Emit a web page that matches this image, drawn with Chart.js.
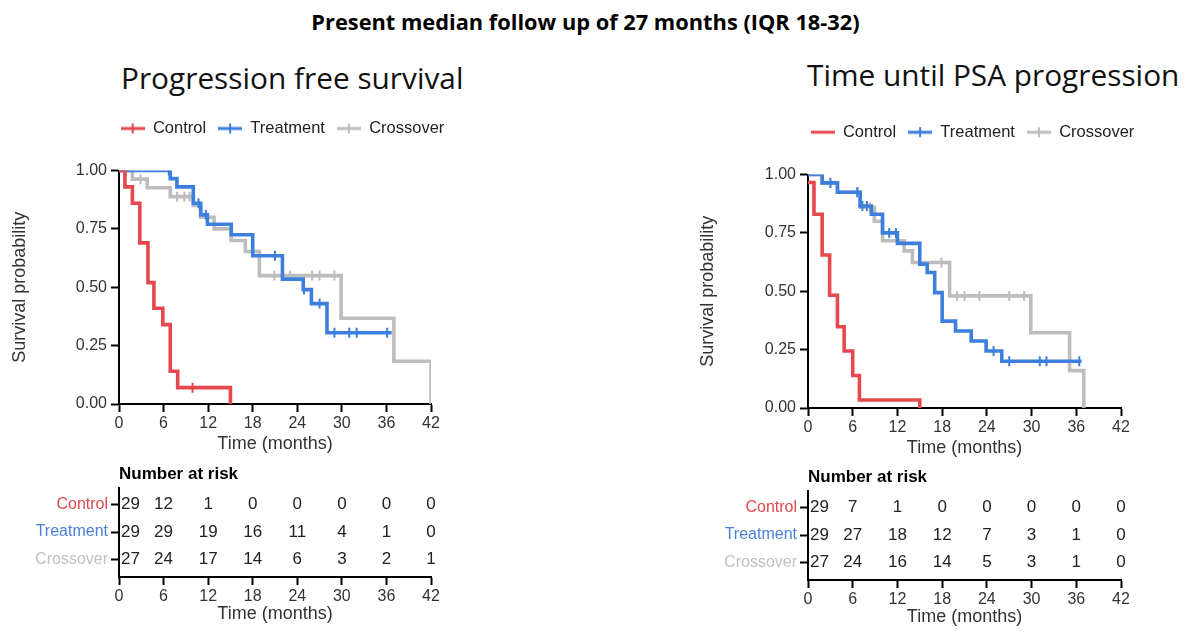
<!DOCTYPE html>
<html><head><meta charset="utf-8">
<script src="https://cdn.jsdelivr.net/npm/chart.js@4.4.1/dist/chart.umd.min.js"></script>
<style>
html,body{margin:0;padding:0;background:#fff;width:1200px;height:643px;overflow:hidden;position:relative;}
canvas{position:absolute;}
#mainTitle{position:absolute;left:0;width:1171px;top:7px;text-align:center;font:bold 21.8px 'Open Sans',sans-serif;color:#000;white-space:nowrap;}
.subTitle{position:absolute;font:29.8px/36px 'Open Sans',sans-serif;color:#111;white-space:nowrap;}
</style></head><body>
<div id="mainTitle">Present median follow up of 27 months (IQR 18-32)</div>
<div class="subTitle" style="left:121px;top:60px">Progression free survival</div>
<div class="subTitle" style="left:807px;top:57px">Time until PSA progression</div>
<canvas id="kmL" width="565" height="410" style="left:0;top:50px"></canvas>
<canvas id="kmR" width="565" height="410" style="left:690px;top:54px"></canvas>
<canvas id="riskL" width="451" height="175" style="left:0;top:455px"></canvas>
<canvas id="riskR" width="451" height="175" style="left:690px;top:458px"></canvas>
<script>
// ---------- data ----------
const timeTicks = [0, 6, 12, 18, 24, 30, 36, 42];
const groups = ['Control', 'Treatment', 'Crossover'];

// Progression free survival (left)
const pfsControlTime = [0, 0.8, 1.8, 2.8, 3.9, 4.7, 5.9, 6.9, 7.9, 15.0];
const pfsControlSurv = [1.00, 0.93, 0.86, 0.69, 0.52, 0.41, 0.34, 0.14, 0.07, 0.00];
const pfsControlCens = [9.9];
const pfsTreatTime = [0, 6.9, 7.8, 10.0, 11.0, 11.9, 15.1, 18.0, 22.0, 24.8, 25.9, 28.0, 36.7];
const pfsTreatSurv = [1.00, 0.965, 0.93, 0.86, 0.81, 0.77, 0.725, 0.635, 0.535, 0.49, 0.43, 0.305, 0.305];
const pfsTreatCens = [6.7, 10.7, 11.7, 21.0, 24.9, 27.0, 29.0, 31.0, 32.0, 36.1];
const pfsCrossTime = [0, 1.8, 3.8, 6.9, 10.0, 11.0, 12.8, 15.1, 17.0, 18.9, 29.9, 37.0, 42.0];
const pfsCrossSurv = [1.00, 0.963, 0.926, 0.888, 0.85, 0.80, 0.75, 0.70, 0.653, 0.55, 0.367, 0.183, 0.00];
const pfsCrossCens = [2.9, 7.8, 8.8, 9.5, 20.9, 23.0, 26.0, 27.0, 29.0];

// Time until PSA progression (right)
const psaControlTime = [0, 0.8, 1.9, 2.9, 3.95, 4.85, 6.0, 6.9, 15.0];
const psaControlSurv = [0.966, 0.83, 0.655, 0.483, 0.348, 0.244, 0.139, 0.034, 0.00];
const psaControlCens = [];
const psaTreatTime = [0, 1.9, 3.95, 7.0, 8.5, 10.0, 12.0, 15.0, 16.0, 17.0, 18.0, 19.8, 21.9, 23.9, 26.0, 36.7];
const psaTreatSurv = [1.00, 0.964, 0.924, 0.865, 0.83, 0.75, 0.705, 0.616, 0.58, 0.494, 0.372, 0.33, 0.287, 0.244, 0.20, 0.20];
const psaTreatCens = [3.0, 6.6, 7.3, 7.9, 10.9, 11.8, 24.9, 27.0, 31.1, 32.0, 36.4];
const psaCrossTime = [0, 1.9, 3.95, 7.0, 8.9, 10.0, 12.9, 14.0, 19.0, 29.9, 35.1, 37.0];
const psaCrossSurv = [1.00, 0.964, 0.924, 0.86, 0.80, 0.716, 0.673, 0.623, 0.48, 0.322, 0.16, 0.00];
const psaCrossCens = [3.0, 6.7, 8.3, 17.9, 20.0, 21.0, 23.0, 27.0, 29.0];

// Number at risk
const pfsRiskControl = [29, 12, 1, 0, 0, 0, 0, 0];
const pfsRiskTreatment = [29, 29, 19, 16, 11, 4, 1, 0];
const pfsRiskCrossover = [27, 24, 17, 14, 6, 3, 2, 1];
const psaRiskControl = [29, 7, 1, 0, 0, 0, 0, 0];
const psaRiskTreatment = [29, 27, 18, 12, 7, 3, 1, 0];
const psaRiskCrossover = [27, 24, 16, 14, 5, 3, 1, 0];

// ---------- styling ----------
const FONT = "'Liberation Sans', Arial, sans-serif";
const RED = '#e5484d', BLUE = '#3d7fdc', GRAY = '#bdbdbd';
const LABEL_COLORS = ['#e0484f', '#4a80dc', '#c0c0c0'];

function survAt(times, surv, t) {
  let s = surv[0];
  for (let i = 0; i < times.length; i++) if (times[i] <= t) s = surv[i];
  return s;
}
function curve(label, times, surv, color) {
  return { label, data: times.map((t, i) => ({x: t, y: surv[i]})), stepped: true,
    borderColor: color, backgroundColor: color, borderWidth: 3.6, pointRadius: 0, fill: false, tension: 0 };
}
function censors(label, times, surv, cens, color) {
  return { label, data: cens.map(t => ({x: t, y: survAt(times, surv, t)})), showLine: false,
    pointStyle: 'line', pointRotation: 90, pointRadius: 5, pointBorderWidth: 2,
    pointBorderColor: color, borderColor: color, backgroundColor: color };
}
function legendSymbol(color, cross) {
  const c = document.createElement('canvas'); c.width = 24; c.height = 12;
  const g = c.getContext('2d'); g.strokeStyle = color; g.lineWidth = 3;
  g.beginPath(); g.moveTo(0, 6); g.lineTo(24, 6); g.stroke();
  if (cross) { g.lineWidth = 2; g.beginPath(); g.moveTo(12, 1); g.lineTo(12, 11); g.stroke(); }
  return c;
}
const axisGrid = { drawOnChartArea: false, drawTicks: true, tickLength: 8, tickColor: '#000', tickWidth: 2 };
const axisBorder = { color: '#000', width: 2 };

function xAxis(height) {
  return { type: 'linear', position: 'bottom', min: 0, max: 42,
    afterBuildTicks: s => { s.ticks = timeTicks.map(v => ({value: v})); },
    ticks: { font: {family: FONT, size: 16}, color: '#333', padding: 2, autoSkip: false, maxRotation: 0 },
    grid: axisGrid, border: axisBorder,
    title: { display: true, text: 'Time (months)', font: {family: FONT, size: 18}, color: '#333', padding: {top: 0, bottom: 5} },
    afterFit: s => { s.height = height; } };
}
function spacer(position, size) {
  const horiz = position === 'top' || position === 'bottom';
  return { type: 'linear', position, display: true, ticks: {display: false}, grid: {display: false}, border: {display: false},
    afterFit: s => { if (horiz) s.height = size; else s.width = size; } };
}

function makeKM(id, cfg) {
  const datasets = [
    curve('Control', cfg.c[0], cfg.c[1], RED), censors('cc', cfg.c[0], cfg.c[1], cfg.c[2], RED),
    curve('Treatment', cfg.t[0], cfg.t[1], BLUE), censors('tc', cfg.t[0], cfg.t[1], cfg.t[2], BLUE),
    curve('Crossover', cfg.x[0], cfg.x[1], GRAY), censors('xc', cfg.x[0], cfg.x[1], cfg.x[2], GRAY)
  ];
  const symbols = [legendSymbol(RED, cfg.controlCross), legendSymbol(BLUE, true), legendSymbol(GRAY, true)];
  const colors = [RED, BLUE, GRAY];
  new Chart(document.getElementById(id), {
    type: 'line',
    data: { datasets },
    options: {
      responsive: false, animation: false, events: [],
      layout: { padding: {top: cfg.padTop, left: 0, right: 0, bottom: 0} },
      plugins: {
        title: { display: false },
        legend: { display: true, position: 'top', align: 'center', fullSize: true,
          labels: { usePointStyle: true, pointStyleWidth: 24, boxHeight: 12, padding: 12, color: '#222',
            font: {family: FONT, size: 16.5},
            generateLabels: () => groups.map((g, i) => ({ text: g, pointStyle: symbols[i], fillStyle: colors[i],
              strokeStyle: colors[i], lineWidth: 0, fontColor: '#222', datasetIndex: i * 2, hidden: false })) } },
        tooltip: { enabled: false }
      },
      scales: {
        x: xAxis(56),
        y: { type: 'linear', position: 'left', min: 0, max: 1,
          ticks: { stepSize: 0.25, callback: v => Number(v).toFixed(2), font: {family: FONT, size: 16}, color: '#333', padding: 4 },
          grid: axisGrid, border: axisBorder,
          title: { display: true, text: 'Survival probability', font: {family: FONT, size: 18}, color: '#333', padding: {top: cfg.yTitlePad, bottom: 0} },
          afterFit: s => { s.width = cfg.yWidth; } },
        yR: spacer('right', 134),
        xT: spacer('top', cfg.topGap)
      }
    }
  });
}

function makeRisk(id, rows, yWidth) {
  const rowPos = [2.65, 1.65, 0.65];
  const riskNumbers = {
    id: 'riskNumbers',
    afterDatasetsDraw(chart) {
      const {ctx, scales: {x, y}} = chart;
      ctx.save(); ctx.font = '17px ' + FONT; ctx.fillStyle = '#222'; ctx.textBaseline = 'middle';
      rows.forEach((row, r) => {
        const py = y.getPixelForValue(rowPos[r]);
        row.forEach((n, c) => {
          const px = x.getPixelForValue(timeTicks[c]);
          if (c === 0) { ctx.textAlign = 'left'; ctx.fillText(String(n), px + 2, py); }
          else { ctx.textAlign = 'center'; ctx.fillText(String(n), px, py); }
        });
      });
      ctx.restore();
    }
  };
  new Chart(document.getElementById(id), {
    type: 'line',
    data: { datasets: [] },
    plugins: [riskNumbers],
    options: {
      responsive: false, animation: false, events: [],
      layout: { padding: 0 },
      plugins: {
        title: { display: true, text: 'Number at risk', align: 'start', fullSize: false, color: '#000',
          font: {family: FONT, size: 17, weight: 'bold'}, padding: {top: 9, bottom: 4} },
        legend: { display: false }, tooltip: { enabled: false }
      },
      scales: {
        x: xAxis(53),
        y: { type: 'linear', position: 'left', min: 0, max: 3.25,
          afterBuildTicks: s => { s.ticks = rowPos.slice().reverse().map(v => ({value: v})); },
          ticks: { callback: v => groups[rowPos.indexOf(v)], font: {family: FONT, size: 16}, padding: 3,
            color: c => LABEL_COLORS[rowPos.indexOf(c.tick.value)] },
          grid: axisGrid, border: axisBorder,
          afterFit: s => { s.width = yWidth; } },
        yR: spacer('right', 20)
      }
    }
  });
}

makeKM('kmL', { padTop: 58.2, topGap: 23.8, yWidth: 119, yTitlePad: 9, controlCross: true,
  c: [pfsControlTime, pfsControlSurv, pfsControlCens],
  t: [pfsTreatTime, pfsTreatSurv, pfsTreatCens],
  x: [pfsCrossTime, pfsCrossSurv, pfsCrossCens] });
makeKM('kmR', { padTop: 58, topGap: 24, yWidth: 118, yTitlePad: 7, controlCross: false,
  c: [psaControlTime, psaControlSurv, psaControlCens],
  t: [psaTreatTime, psaTreatSurv, psaTreatCens],
  x: [psaCrossTime, psaCrossSurv, psaCrossCens] });
makeRisk('riskL', [pfsRiskControl, pfsRiskTreatment, pfsRiskCrossover], 119);
makeRisk('riskR', [psaRiskControl, psaRiskTreatment, psaRiskCrossover], 118);
</script>
</body></html>
